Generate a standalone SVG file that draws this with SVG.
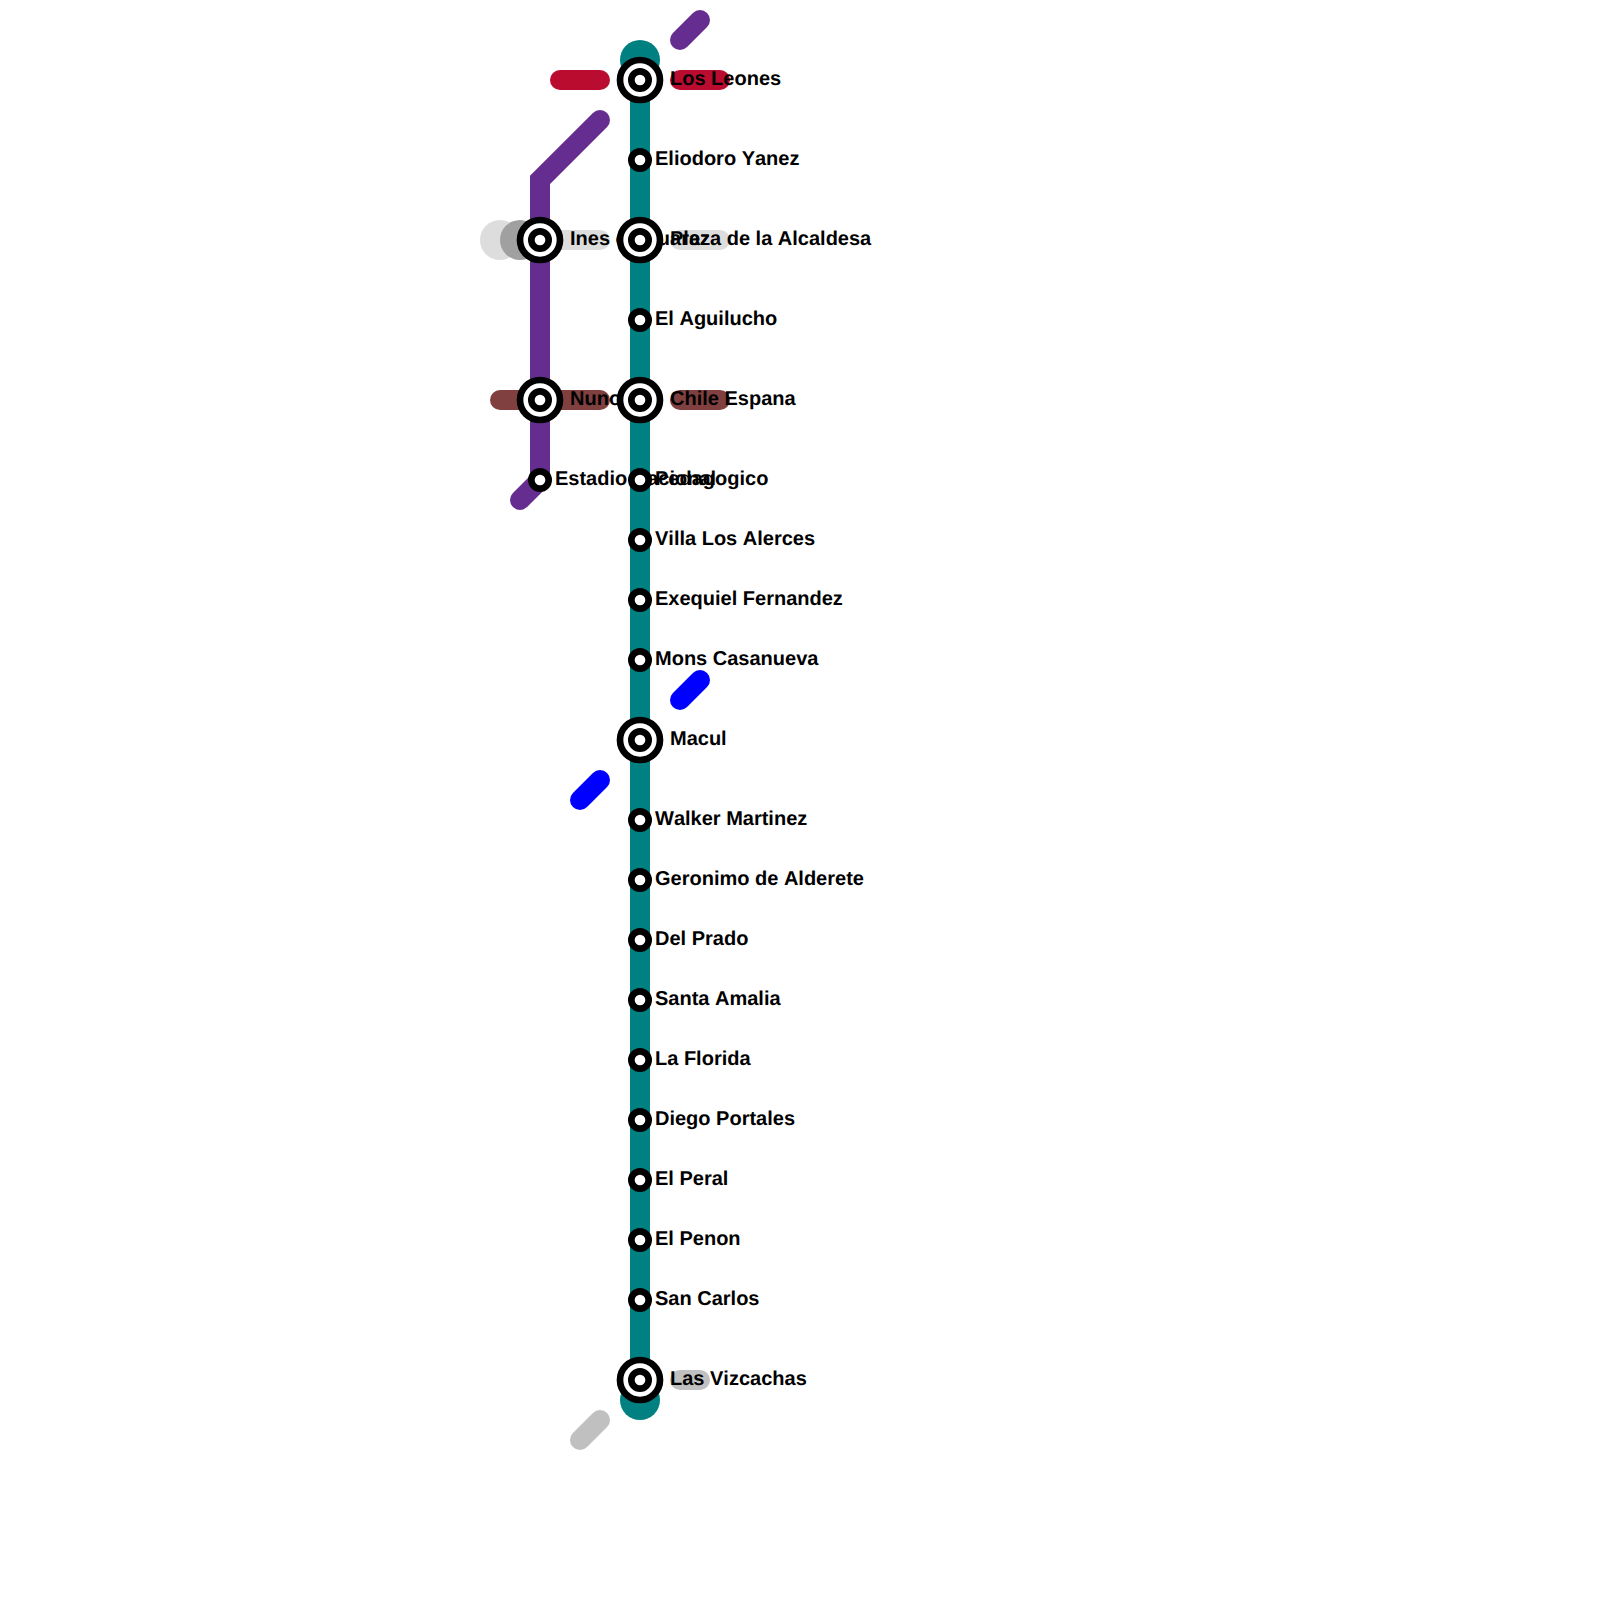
<svg xmlns="http://www.w3.org/2000/svg" width="1600" height="1600" viewBox="0 0 1600 1600">
<style>
.l{fill:none;stroke-width:20;stroke-linecap:round;stroke-linejoin:miter}
.teal{stroke:#008080}.purple{stroke:#662D91}.red{stroke:#BA0C2F}.grey{stroke:#DDDDDD}.brown{stroke:#804040}.blue{stroke:#0000FF}.silver{stroke:#C0C0C0}
.o{fill:#fff;stroke:#000;stroke-width:6.67}
text{font-family:"Liberation Sans",Arial,sans-serif;font-size:20px;font-weight:700;fill:#000;text-rendering:geometricPrecision;font-kerning:none}
</style>
<defs>
<g id="big"><circle class="o" r="20"/><circle class="o" r="8.67"/></g>
<circle id="small" class="o" r="8.67"/>
</defs>
<g id="connectors">
<circle cx="640" cy="60" r="20" fill="#008080"/>
<circle cx="640" cy="1400" r="20" fill="#008080"/>
<circle cx="500" cy="240" r="20" fill="#DDDDDD"/>
<circle cx="520" cy="240" r="20" fill="#A0A0A0"/>
<path class="l grey" d="M560 240H600"/>
<path class="l grey" d="M680 240H720"/>
<path class="l teal" d="M640 60V1400"/>
<path class="l purple" d="M600 120L540 180V480L520 500"/>
<path class="l purple" d="M680 40L700 20"/>
<path class="l red" d="M560 80H600"/>
<path class="l red" d="M680 80H720"/>
<path class="l brown" d="M500 400H600"/>
<path class="l brown" d="M680 400H720"/>
<path class="l blue" d="M680 700L700 680"/>
<path class="l blue" d="M580 800L600 780"/>
<path class="l silver" d="M680 1380H700"/>
<path class="l silver" d="M580 1440L600 1420"/>
</g>
<g id="labels">
<text x="670" y="85">Los Leones</text>
<text x="655" y="165">Eliodoro Yanez</text>
<text x="570" y="245">Ines de Suarez</text>
<text x="670" y="245">Plaza de la Alcaldesa</text>
<text x="655" y="325">El Aguilucho</text>
<text x="570" y="405">Nunoa</text>
<text x="670" y="405">Chile Espana</text>
<text x="555" y="485">Estadio Nacional</text>
<text x="655" y="485">Pedagogico</text>
<text x="655" y="545">Villa Los Alerces</text>
<text x="655" y="605">Exequiel Fernandez</text>
<text x="655" y="665">Mons Casanueva</text>
<text x="670" y="745">Macul</text>
<text x="655" y="825">Walker Martinez</text>
<text x="655" y="885">Geronimo de Alderete</text>
<text x="655" y="945">Del Prado</text>
<text x="655" y="1005">Santa Amalia</text>
<text x="655" y="1065">La Florida</text>
<text x="655" y="1125">Diego Portales</text>
<text x="655" y="1185">El Peral</text>
<text x="655" y="1245">El Penon</text>
<text x="655" y="1305">San Carlos</text>
<text x="670" y="1385">Las Vizcachas</text>
</g>
<g id="stations">
<g id="n-los-leones"><use href="#big" x="640" y="80"/></g>
<g id="n-eliodoro-yanez"><use href="#small" x="640" y="160"/></g>
<g id="n-ines-de-suarez"><use href="#big" x="540" y="240"/></g>
<g id="n-plaza-de-la-alcaldesa"><use href="#big" x="640" y="240"/></g>
<g id="n-el-aguilucho"><use href="#small" x="640" y="320"/></g>
<g id="n-nunoa"><use href="#big" x="540" y="400"/></g>
<g id="n-chile-espana"><use href="#big" x="640" y="400"/></g>
<g id="n-estadio-nacional"><use href="#small" x="540" y="480"/></g>
<g id="n-pedagogico"><use href="#small" x="640" y="480"/></g>
<g id="n-villa-los-alerces"><use href="#small" x="640" y="540"/></g>
<g id="n-exequiel-fernandez"><use href="#small" x="640" y="600"/></g>
<g id="n-mons-casanueva"><use href="#small" x="640" y="660"/></g>
<g id="n-macul"><use href="#big" x="640" y="740"/></g>
<g id="n-walker-martinez"><use href="#small" x="640" y="820"/></g>
<g id="n-geronimo-de-alderete"><use href="#small" x="640" y="880"/></g>
<g id="n-del-prado"><use href="#small" x="640" y="940"/></g>
<g id="n-santa-amalia"><use href="#small" x="640" y="1000"/></g>
<g id="n-la-florida"><use href="#small" x="640" y="1060"/></g>
<g id="n-diego-portales"><use href="#small" x="640" y="1120"/></g>
<g id="n-el-peral"><use href="#small" x="640" y="1180"/></g>
<g id="n-el-penon"><use href="#small" x="640" y="1240"/></g>
<g id="n-san-carlos"><use href="#small" x="640" y="1300"/></g>
<g id="n-las-vizcachas"><use href="#big" x="640" y="1380"/></g>
</g>
</svg>
